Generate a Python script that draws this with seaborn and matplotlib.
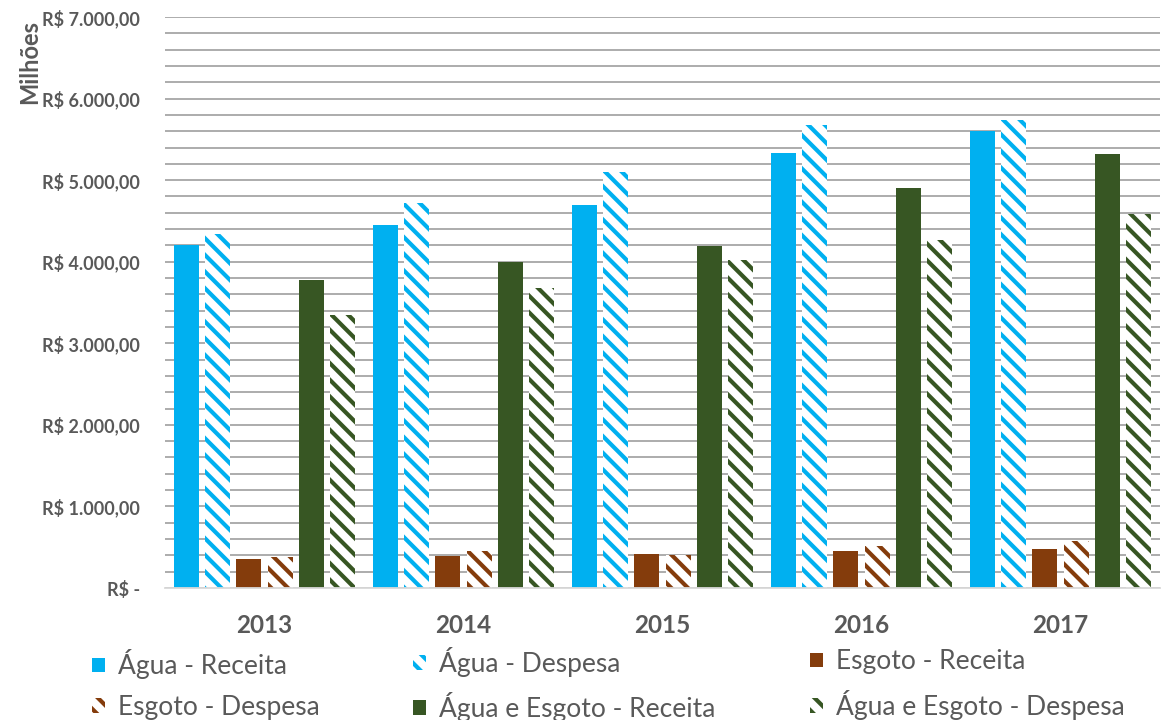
import matplotlib
matplotlib.use("Agg")
import matplotlib.pyplot as plt
import numpy as np
import pandas as pd
import seaborn as sns
from matplotlib.patches import Patch
from matplotlib.ticker import MultipleLocator, FuncFormatter

# ---- data (R$ milhões) ----
years = ["2013", "2014", "2015", "2016", "2017"]
agua_receita = [4200, 4450, 4700, 5330, 5600]
agua_despesa = [4340, 4720, 5100, 5680, 5740]
esgoto_receita = [350, 390, 420, 450, 480]
esgoto_despesa = [385, 450, 400, 520, 580]
ae_receita = [3780, 4000, 4190, 4900, 5320]
ae_despesa = [3350, 3680, 4020, 4270, 4590]
series = ["Água - Receita", "Água - Despesa", "Esgoto - Receita",
          "Esgoto - Despesa", "Água e Esgoto - Receita", "Água e Esgoto - Despesa"]
values = [agua_receita, agua_despesa, esgoto_receita,
          esgoto_despesa, ae_receita, ae_despesa]

C_AGUA = "#00B0F0"
C_ESG = "#843C0C"
C_AE = "#375623"
colors = [C_AGUA, C_AGUA, C_ESG, C_ESG, C_AE, C_AE]
hatched = [False, True, False, True, False, True]
HATCH = "\\\\"

df = pd.DataFrame([
    {"Ano": y, "Série": s, "Valor": v}
    for s, vals in zip(series, values) for y, v in zip(years, vals)
])

sns.set_theme(style="white")
plt.rcParams["font.family"] = ["Lato", "DejaVu Sans"]
plt.rcParams["hatch.linewidth"] = 3.0
TXT = "#595959"
GRID = "#A6A6A6"

W, H = 1166, 720
fig = plt.figure(figsize=(W / 100, H / 100), dpi=100)
ax = fig.add_axes([165 / W, 1 - 588 / H, (1160 - 165) / W, (588 - 17) / H])

sns.barplot(data=df, x="Ano", y="Valor", hue="Série", hue_order=series,
            order=years, palette=colors, saturation=1, width=0.94, gap=0.2,
            errorbar=None, legend=False, ax=ax)

for cont, col, h in zip(ax.containers, colors, hatched):
    for bar in cont:
        if h:
            bar.set_facecolor("white")
            bar.set_edgecolor(col)
            bar.set_hatch(HATCH)
            bar.set_linewidth(0)
        else:
            bar.set_linewidth(0)

ax.set_ylim(0, 7000)
ax.yaxis.set_major_locator(MultipleLocator(1000))
ax.yaxis.set_minor_locator(MultipleLocator(200))


def fmt(v, pos):
    if abs(v) < 1e-9:
        return "R$ -"
    s = f"{v:,.2f}".replace(",", "X").replace(".", ",").replace("X", ".")
    return "R$ " + s


ax.yaxis.set_major_formatter(FuncFormatter(fmt))
ax.grid(True, axis="y", which="both", color=GRID, linewidth=1.3)
ax.grid(False, axis="x")
ax.set_axisbelow(True)
for sp in ["left", "top", "right"]:
    ax.spines[sp].set_visible(False)
ax.spines["bottom"].set_color("#D9D9D9")
ax.spines["bottom"].set_linewidth(1.3)
ax.set_xlabel("")
ax.set_ylabel("")
ax.tick_params(axis="y", which="both", length=0, pad=18, labelcolor=TXT, labelsize=13)
ax.tick_params(axis="x", length=0, pad=19, labelcolor=TXT, labelsize=17.5)
for t in ax.get_yticklabels():
    t.set_fontweight("bold")
for t in ax.get_xticklabels():
    t.set_fontweight("bold")

fig.text(30 / W, 1 - 62 / H, "Milhões", rotation=90, ha="center", va="center",
         color=TXT, fontsize=17, fontweight="bold")

# legend: three columns placed like the reference
handles = []
for s, col, h in zip(series, colors, hatched):
    if h:
        handles.append(Patch(facecolor="white", edgecolor=col, hatch=HATCH, linewidth=0, label=s))
    else:
        handles.append(Patch(facecolor=col, edgecolor=col, linewidth=0, label=s))

cols = [(92, [0, 3]), (413, [1, 4]), (810, [2, 5])]
for x, idx in cols:
    leg = fig.legend(handles=[handles[i] for i in idx], loc="center left",
                     bbox_to_anchor=(x / W, 1 - 684.5 / H), frameon=False,
                     fontsize=19, handlelength=0.48, handleheight=0.48,
                     handletextpad=0.5, labelspacing=0.58, borderpad=0,
                     borderaxespad=0, labelcolor=TXT)

fig.savefig("out.png", dpi=100)
